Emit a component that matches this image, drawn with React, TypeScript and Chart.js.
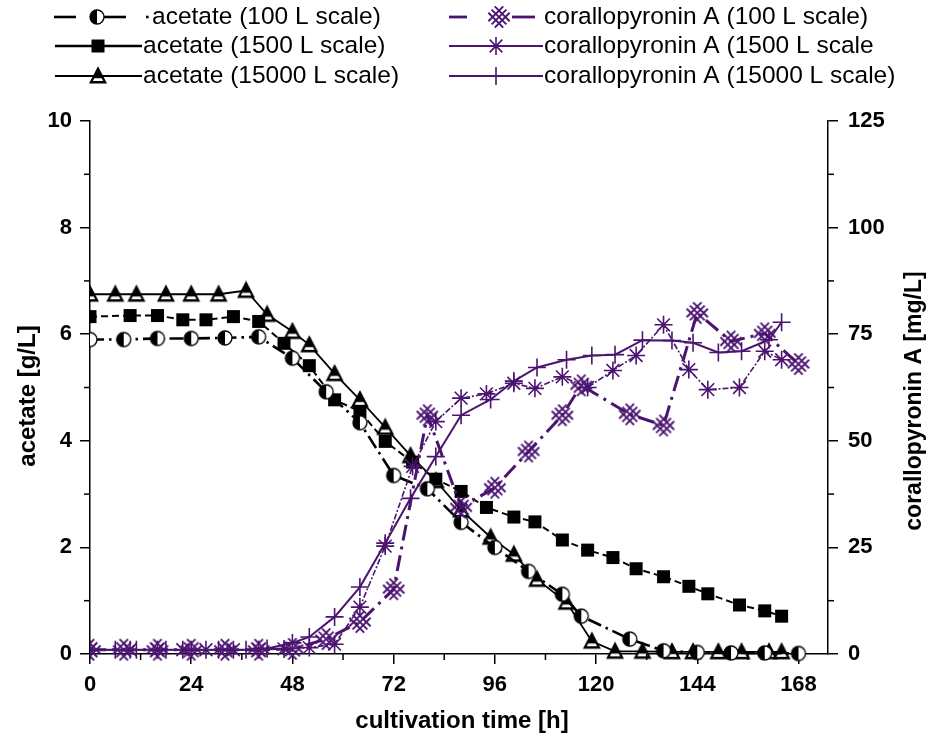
import React, { useEffect, useRef } from 'react';
import { Chart, registerables } from 'chart.js';

Chart.register(...registerables);

const FONT = '"Liberation Sans", Arial, Helvetica, sans-serif';
const PURPLE = '#4b1470';

// ---------- data ----------
const time100 = [0, 8, 16, 24, 32, 40, 48, 56, 64, 72, 80, 88, 96, 104, 112, 116.5, 128, 136, 144, 152, 160, 168];
const acetate100 = [5.9, 5.9, 5.92, 5.92, 5.93, 5.95, 5.55, 4.92, 4.34, 3.35, 3.1, 2.47, 2.0, 1.55, 1.12, 0.71, 0.28, 0.06, 0.03, 0.02, 0.02, 0.01];
const cora100 = [1, 1, 1, 1, 1, 1, 1.2, 3.5, 7.5, 15.2, 56, 34.4, 39, 47.5, 56, 63, 56.2, 53.6, 80, 73.3, 75.2, 68];

const time1500 = [0, 9.5, 16, 22, 27.5, 34, 40, 46, 52, 58, 64, 70, 76.5, 82, 88, 94, 100.5, 105.5, 112, 118, 124, 129.5, 136, 142, 146.5, 154, 160, 164];
const acetate1500 = [6.33, 6.35, 6.35, 6.27, 6.27, 6.33, 6.24, 5.83, 5.41, 4.77, 4.55, 3.99, 3.6, 3.28, 3.05, 2.75, 2.57, 2.48, 2.14, 1.95, 1.81, 1.6, 1.45, 1.27, 1.13, 0.92, 0.81, 0.71];
const cora1500 = [1, 1, 1, 1, 1, 1, 1, 1.2, 1.5, 2.3, 11, 25.3, 44, 54.5, 60, 61, 63.5, 62.3, 65, 62.5, 66.5, 70, 77.2, 66.7, 62, 62.5, 71, 69];

const time15000 = [0, 6, 11, 18, 24, 30.5, 37, 42, 48, 52, 58, 64, 70, 76, 82, 88, 95, 100.5, 106, 113, 119, 124.5, 131, 138, 143, 149, 154.5, 161, 164];
const acetate15000 = [6.75, 6.75, 6.75, 6.75, 6.75, 6.75, 6.82, 6.37, 6.05, 5.8, 5.26, 4.77, 4.25, 3.72, 3.25, 2.7, 2.19, 1.87, 1.4, 0.97, 0.24, 0.05, 0.05, 0.04, 0.04, 0.04, 0.04, 0.04, 0.04];
const cora15000 = [1, 1, 1, 1, 1, 1, 1, 1.3, 2.6, 4, 8.7, 15.7, 26, 36.5, 46.3, 56, 59.7, 64, 67.2, 69, 70, 70.2, 73.6, 73.5, 73, 70.7, 71, 73.7, 77.8];

const xTicks = [0, 24, 48, 72, 96, 120, 144, 168];
const xMinorTicks = [12, 36, 60, 84, 108, 132, 156];
const leftTicks = [0, 2, 4, 6, 8, 10];
const leftMinorTicks = [1, 3, 5, 7, 9];
const rightTicks = [0, 25, 50, 75, 100, 125];
const rightMinorTicks = [12.5, 37.5, 62.5, 87.5, 112.5];

const legendLabels = [
  'acetate (100 L scale)',
  'acetate (1500 L scale)',
  'acetate (15000 L scale)',
  'corallopyronin A (100 L scale)',
  'corallopyronin A (1500 L scale',
  'corallopyronin A (15000 L scale)',
];
const xTitle = 'cultivation time [h]';
const yTitle = 'acetate [g/L]';
const y2Title = 'corallopyronin A [mg/L]';

function pts(t: number[], v: number[]) {
  return t.map((x, i) => ({ x, y: v[i] }));
}

function makeCanvas(w: number, h: number, draw: (ctx: CanvasRenderingContext2D) => void) {
  const c = document.createElement('canvas');
  c.width = w;
  c.height = h;
  const ctx = c.getContext('2d') as CanvasRenderingContext2D;
  draw(ctx);
  return c;
}

function makeMarkers() {
  const halfCircle = makeCanvas(18, 18, (ctx) => {
    ctx.beginPath();
    ctx.arc(9, 9, 7, 0, Math.PI * 2);
    ctx.fillStyle = '#fff';
    ctx.fill();
    ctx.beginPath();
    ctx.moveTo(9, 2);
    ctx.arc(9, 9, 7, -Math.PI / 2, Math.PI / 2, true);
    ctx.closePath();
    ctx.fillStyle = '#000';
    ctx.fill();
    ctx.beginPath();
    ctx.arc(9, 9, 7, 0, Math.PI * 2);
    ctx.lineWidth = 1.3;
    ctx.strokeStyle = '#000';
    ctx.stroke();
  });
  const square = makeCanvas(15, 15, (ctx) => {
    ctx.fillStyle = '#000';
    ctx.fillRect(1, 1, 13, 13);
  });
  const triangle = makeCanvas(20, 20, (ctx) => {
    ctx.beginPath();
    ctx.moveTo(10, 1.5);
    ctx.lineTo(18, 17);
    ctx.lineTo(2, 17);
    ctx.closePath();
    ctx.fillStyle = '#000';
    ctx.fill();
    ctx.lineWidth = 1.2;
    ctx.strokeStyle = '#000';
    ctx.stroke();
    const hw = (y: number) => ((y - 1.5) / 15.5) * 8 - 1.8;
    const y1 = 12.2;
    const y2 = 15.0;
    ctx.beginPath();
    ctx.moveTo(10 - hw(y1), y1);
    ctx.lineTo(10 + hw(y1), y1);
    ctx.lineTo(10 + hw(y2), y2);
    ctx.lineTo(10 - hw(y2), y2);
    ctx.closePath();
    ctx.fillStyle = '#fff';
    ctx.fill();
  });
  const hatch = makeCanvas(26, 26, (ctx) => {
    ctx.strokeStyle = PURPLE;
    ctx.lineWidth = 1.9;
    const c = 13;
    const s = Math.SQRT1_2;
    const dirs = [
      [s, s, s, -s],
      [s, -s, s, s],
    ];
    ctx.beginPath();
    dirs.forEach(([dx, dy, px, py]) => {
      [-4.5, 0, 4.5].forEach((d) => {
        const cx = c + px * d;
        const cy = c + py * d;
        ctx.moveTo(cx - dx * 10.5, cy - dy * 10.5);
        ctx.lineTo(cx + dx * 10.5, cy + dy * 10.5);
      });
    });
    ctx.stroke();
  });
  return { halfCircle, square, triangle, hatch };
}

function drawStar(ctx: CanvasRenderingContext2D, x: number, y: number, r: number) {
  ctx.beginPath();
  for (let k = 0; k < 4; k++) {
    const a = (k * Math.PI) / 4;
    ctx.moveTo(x - Math.cos(a) * r, y - Math.sin(a) * r);
    ctx.lineTo(x + Math.cos(a) * r, y + Math.sin(a) * r);
  }
  ctx.stroke();
}
function drawCross(ctx: CanvasRenderingContext2D, x: number, y: number, r: number) {
  ctx.beginPath();
  ctx.moveTo(x - r, y);
  ctx.lineTo(x + r, y);
  ctx.moveTo(x, y - r);
  ctx.lineTo(x, y + r);
  ctx.stroke();
}

export default function App() {
  const ref = useRef<HTMLCanvasElement | null>(null);

  useEffect(() => {
    if (!ref.current) return;
    const m = makeMarkers();

    const seg = (ctx: CanvasRenderingContext2D, x0: number, x1: number, y: number) => {
      ctx.beginPath();
      ctx.moveTo(x0, y);
      ctx.lineTo(x1, y);
      ctx.stroke();
    };

    const legendPlugin = {
      id: 'customLegend',
      afterDraw(chart: any) {
        const ctx: CanvasRenderingContext2D = chart.ctx;
        ctx.save();
        ctx.setLineDash([]);
        ctx.font = `24.5px ${FONT}`;
        ctx.textBaseline = 'middle';
        ctx.textAlign = 'left';
        const rows = [17, 46, 76];
        // column 1 (black)
        ctx.strokeStyle = '#000';
        ctx.fillStyle = '#000';
        ctx.lineWidth = 2.6;
        seg(ctx, 54, 76, rows[0]);
        seg(ctx, 104, 126, rows[0]);
        ctx.fillRect(146, rows[0] - 1.3, 2.6, 2.6);
        ctx.drawImage(m.halfCircle, 97 - 9, rows[0] - 9);
        ctx.fillText(legendLabels[0], 152, rows[0]);
        seg(ctx, 55, 142, rows[1]);
        ctx.drawImage(m.square, 98 - 7.5, rows[1] - 7.5);
        ctx.fillText(legendLabels[1], 143, rows[1]);
        ctx.lineWidth = 2.2;
        seg(ctx, 55, 142, rows[2]);
        ctx.drawImage(m.triangle, 98 - 10, rows[2] - 10);
        ctx.fillText(legendLabels[2], 143, rows[2]);
        // column 2 (purple)
        ctx.strokeStyle = PURPLE;
        ctx.lineWidth = 2.8;
        seg(ctx, 449, 467, rows[0]);
        seg(ctx, 512, 535, rows[0]);
        ctx.drawImage(m.hatch, 499 - 13, rows[0] - 13);
        ctx.lineWidth = 2.2;
        seg(ctx, 449, 543, rows[1]);
        ctx.lineWidth = 1.6;
        drawStar(ctx, 496, rows[1], 9);
        ctx.lineWidth = 2.2;
        seg(ctx, 449, 543, rows[2]);
        ctx.lineWidth = 1.6;
        drawCross(ctx, 496, rows[2], 9);
        ctx.fillStyle = '#000';
        ctx.fillText(legendLabels[3], 544, rows[0]);
        ctx.fillText(legendLabels[4], 544, rows[1]);
        ctx.fillText(legendLabels[5], 544, rows[2]);
        ctx.restore();
      },
    };

    const decorPlugin = {
      id: 'decor',
      afterDraw(chart: any) {
        const ctx: CanvasRenderingContext2D = chart.ctx;
        const { left, right, bottom } = chart.chartArea;
        const sx = chart.scales.x;
        const sy = chart.scales.y;
        const sy2 = chart.scales.y2;
        ctx.save();
        ctx.setLineDash([]);
        ctx.strokeStyle = '#000';
        ctx.lineWidth = 1.5;
        xMinorTicks.forEach((v) => {
          const p = sx.getPixelForValue(v);
          ctx.beginPath();
          ctx.moveTo(p, bottom);
          ctx.lineTo(p, bottom + 6);
          ctx.stroke();
        });
        leftMinorTicks.forEach((v) => {
          const p = sy.getPixelForValue(v);
          ctx.beginPath();
          ctx.moveTo(left - 6, p);
          ctx.lineTo(left, p);
          ctx.stroke();
        });
        rightMinorTicks.forEach((v) => {
          const p = sy2.getPixelForValue(v);
          ctx.beginPath();
          ctx.moveTo(right, p);
          ctx.lineTo(right + 6, p);
          ctx.stroke();
        });
        ctx.fillStyle = '#000';
        ctx.font = `bold 24px ${FONT}`;
        ctx.textAlign = 'center';
        ctx.textBaseline = 'middle';
        ctx.fillText(xTitle, 462, 721);
        ctx.translate(28, 396);
        ctx.rotate(-Math.PI / 2);
        ctx.fillText(yTitle, 0, 0);
        ctx.setTransform(1, 0, 0, 1, 0, 0);
        ctx.font = `bold 23px ${FONT}`;
        ctx.translate(915, 401);
        ctx.rotate(-Math.PI / 2);
        ctx.fillText(y2Title, 0, 0);
        ctx.restore();
      },
    };

    const tickFont = { family: FONT, size: 22, weight: 'bold' as const };
    const clip = { left: 0, top: 15, right: 15, bottom: 12 };

    const chart = new Chart(ref.current, {
      type: 'line',
      data: {
        datasets: [
          {
            label: legendLabels[3],
            data: pts(time100, cora100),
            yAxisID: 'y2',
            borderColor: PURPLE,
            borderWidth: 3,
            borderDash: [16, 6, 3, 6],
            pointStyle: m.hatch as any,
            pointRadius: 9,
            clip,
          },
          {
            label: legendLabels[4],
            data: pts(time1500, cora1500),
            yAxisID: 'y2',
            borderColor: PURPLE,
            borderWidth: 1.6,
            borderDash: [6, 2, 2, 2],
            pointStyle: 'star',
            pointRadius: 9,
            pointBorderWidth: 1.6,
            pointBorderColor: PURPLE,
            pointBackgroundColor: PURPLE,
            clip,
          },
          {
            label: legendLabels[5],
            data: pts(time15000, cora15000),
            yAxisID: 'y2',
            borderColor: PURPLE,
            borderWidth: 2,
            pointStyle: 'cross',
            pointRadius: 9,
            pointBorderWidth: 1.6,
            pointBorderColor: PURPLE,
            clip,
          },
          {
            label: legendLabels[0],
            data: pts(time100, acetate100),
            yAxisID: 'y',
            borderColor: '#000',
            borderWidth: 2.6,
            borderDash: [14, 5, 2.5, 5],
            pointStyle: m.halfCircle as any,
            pointRadius: 7,
            clip,
          },
          {
            label: legendLabels[1],
            data: pts(time1500, acetate1500),
            yAxisID: 'y',
            borderColor: '#000',
            borderWidth: 2,
            borderDash: [7, 4],
            pointStyle: m.square as any,
            pointRadius: 7,
            clip,
          },
          {
            label: legendLabels[2],
            data: pts(time15000, acetate15000),
            yAxisID: 'y',
            borderColor: '#000',
            borderWidth: 1.8,
            pointStyle: m.triangle as any,
            pointRadius: 7,
            clip,
          },
        ],
      },
      options: {
        animation: false,
        responsive: false,
        devicePixelRatio: 1,
        layout: { padding: { top: 121, left: 0, right: 0, bottom: 0 } },
        plugins: { legend: { display: false }, tooltip: { enabled: false } },
        elements: { line: { tension: 0 } },
        scales: {
          x: {
            type: 'linear',
            min: 0,
            max: 175,
            afterBuildTicks: (s: any) => {
              s.ticks = xTicks.map((v) => ({ value: v }));
            },
            afterFit: (s: any) => {
              s.height = 83;
            },
            grid: { drawOnChartArea: false, tickLength: 10, color: '#000', lineWidth: 1.5 },
            border: { color: '#000', width: 1.5 },
            ticks: { font: tickFont, color: '#000', padding: 8, maxRotation: 0, autoSkip: false },
          },
          y: {
            type: 'linear',
            position: 'left',
            min: 0,
            max: 10,
            afterBuildTicks: (s: any) => {
              s.ticks = leftTicks.map((v) => ({ value: v }));
            },
            afterFit: (s: any) => {
              s.width = 90;
            },
            grid: { drawOnChartArea: false, tickLength: 10, color: '#000', lineWidth: 1.5 },
            border: { color: '#000', width: 1.5 },
            ticks: { font: tickFont, color: '#000', padding: 8 },
          },
          y2: {
            type: 'linear',
            position: 'right',
            min: 0,
            max: 125,
            afterBuildTicks: (s: any) => {
              s.ticks = rightTicks.map((v) => ({ value: v }));
            },
            afterFit: (s: any) => {
              s.width = 110;
            },
            grid: { drawOnChartArea: false, tickLength: 10, color: '#000', lineWidth: 1.5 },
            border: { color: '#000', width: 1.5 },
            ticks: { font: tickFont, color: '#000', padding: 10 },
          },
        },
      },
      plugins: [legendPlugin, decorPlugin],
    } as any);

    return () => chart.destroy();
  }, []);

  return (
    <div style={{ position: 'absolute', left: 0, top: 0, width: 938, height: 737, background: '#fff' }}>
      <canvas ref={ref} width={938} height={737} style={{ display: 'block' }} />
    </div>
  );
}
